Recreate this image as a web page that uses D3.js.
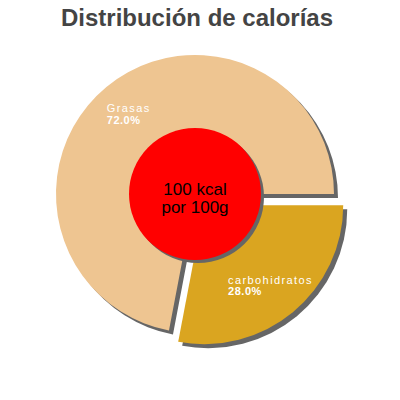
<!DOCTYPE html>
<html>
<head>
<meta charset="utf-8">
<script src="https://cdn.jsdelivr.net/npm/d3@7"></script>
<style>
  body { margin: 0; background: #fff; }
  text { font-family: "Liberation Sans", Arial, sans-serif; }
</style>
</head>
<body>
<div id="chart-area"></div>
<script>
const WIDTH = 400
const HEIGHT = 400
const CENTER = { X: 195, Y: 194 }
const RADIUS = 139
const INNER_RADIUS = 66
const EXPLODE = 14.5
const SHADOW = 4

// data
const categories = ["carbohidratos", "Grasas"]
const percents = [28.0, 72.0]
const colors = ["#DAA520", "#EEC591"]
const exploded = [true, false]
const centerLines = ["100 kcal", "por 100g"]
const title = "Distribución de calorías"

const data = categories.map((c, i) => ({ name: c, value: percents[i], color: colors[i], explode: exploded[i] }))

const svg = d3.select("#chart-area").append("svg")
  .attr("width", WIDTH)
  .attr("height", HEIGHT)

// Title
svg.append("text")
  .attr("x", 197)
  .attr("y", 26)
  .attr("text-anchor", "middle")
  .attr("font-size", "24px")
  .attr("font-weight", "bold")
  .attr("fill", "#444")
  .text(title)

const g = svg.append("g")
  .attr("transform", `translate(${CENTER.X}, ${CENTER.Y})`)

// starts at 3 o'clock, going clockwise
const pie = d3.pie()
  .sort(null)
  .value(d => d.value)
  .startAngle(Math.PI / 2)
  .endAngle(Math.PI / 2 + 2 * Math.PI)

const arc = d3.arc().innerRadius(0).outerRadius(RADIUS)
const labelArc = d3.arc().innerRadius(104).outerRadius(104)

const arcs = pie(data)

const offset = d => {
  if (!d.data.explode) return [0, 0]
  const a = (d.startAngle + d.endAngle) / 2
  return [Math.sin(a) * EXPLODE, -Math.cos(a) * EXPLODE]
}

// shadows
g.selectAll(".shadow")
  .data(arcs)
  .enter().append("path")
  .attr("class", "shadow")
  .attr("d", arc)
  .attr("fill", "#666")
  .attr("transform", d => {
    const [dx, dy] = offset(d)
    return `translate(${dx + SHADOW}, ${dy + SHADOW})`
  })

// slices
g.selectAll(".slice")
  .data(arcs)
  .enter().append("path")
  .attr("class", "slice")
  .attr("d", arc)
  .attr("fill", d => d.data.color)
  .attr("transform", d => {
    const [dx, dy] = offset(d)
    return `translate(${dx}, ${dy})`
  })

// labels
arcs.forEach(d => {
  const [dx, dy] = offset(d)
  const [cx, cy] = labelArc.centroid(d)
  const t = g.append("text")
    .attr("fill", "#fff")
    .attr("font-size", "11px")
  t.append("tspan").attr("class", "l1").attr("letter-spacing", "1.4px").text(d.data.name)
  t.append("tspan").attr("class", "l2").attr("font-weight", "bold").attr("letter-spacing", "0.5px")
    .text(d3.format(".1f")(d.data.value) + "%")
  const w = t.select(".l1").node().getComputedTextLength()
  const x0 = cx + dx - w / 2
  t.select(".l1").attr("x", x0).attr("y", cy + dy - 1.5)
  t.select(".l2").attr("x", x0).attr("y", cy + dy + 10)
})

// center circle
g.append("circle")
  .attr("cx", SHADOW - 1)
  .attr("cy", SHADOW - 1)
  .attr("r", INNER_RADIUS)
  .attr("fill", "#666")

g.append("circle")
  .attr("r", INNER_RADIUS)
  .attr("fill", "#FF0000")

g.selectAll(".center-text")
  .data(centerLines)
  .enter().append("text")
  .attr("class", "center-text")
  .attr("x", 0)
  .attr("y", (d, i) => 1 + i * 18)
  .attr("text-anchor", "middle")
  .attr("font-size", "17px")
  .attr("fill", "#000")
  .text(d => d)
</script>
</body>
</html>
